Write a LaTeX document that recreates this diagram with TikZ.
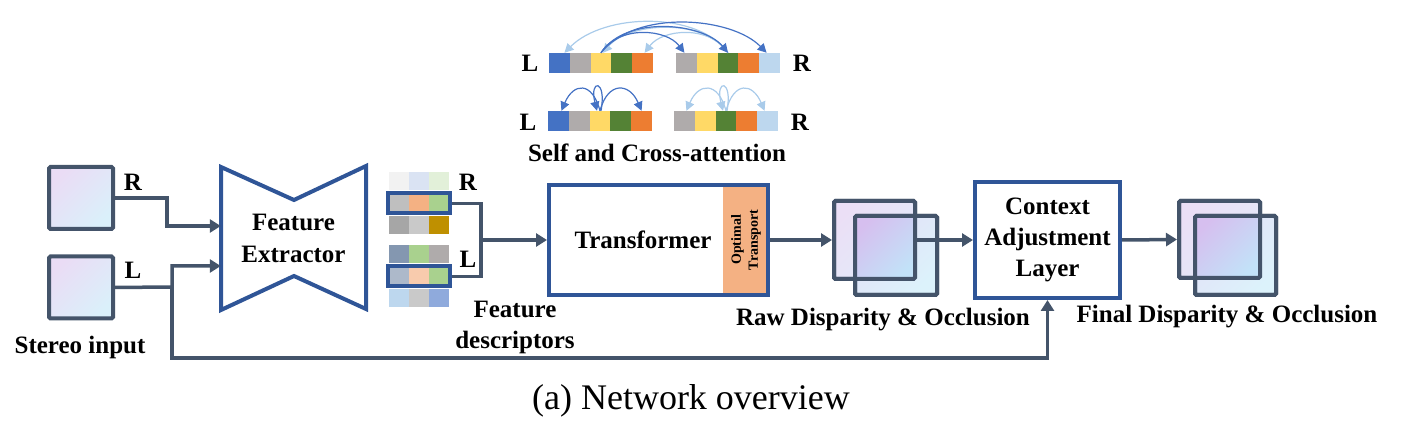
\documentclass[tikz,border=0pt]{standalone}
\usepackage{fontspec}
\setmainfont{Liberation Serif}[BoldFont={Liberation Serif Bold}]
\usetikzlibrary{arrows.meta,shadings,calc}
\definecolor{cgray}{HTML}{44546A}
\definecolor{dblue}{HTML}{2F5597}
\definecolor{aDark}{HTML}{4472C4}
\definecolor{aLight}{HTML}{A9CBEA}
\definecolor{otc}{HTML}{F4B183}
\definecolor{cBlue}{HTML}{4472C4}
\definecolor{cGray}{HTML}{AFABAB}
\definecolor{cYel}{HTML}{FFD966}
\definecolor{cGrn}{HTML}{548235}
\definecolor{cOrg}{HTML}{ED7D31}
\definecolor{cLb}{HTML}{BDD7EE}
\definecolor{fdA}{HTML}{F2F2F2}
\definecolor{fdB}{HTML}{DAE3F3}
\definecolor{fdC}{HTML}{E2F0D9}
\definecolor{fdD}{HTML}{BFBFBF}
\definecolor{fdE}{HTML}{F4B183}
\definecolor{fdF}{HTML}{A9D18E}
\definecolor{fdG}{HTML}{A6A6A6}
\definecolor{fdH}{HTML}{C9C9C9}
\definecolor{fdI}{HTML}{BF9000}
\definecolor{fdJ}{HTML}{8497B0}
\definecolor{fdL}{HTML}{ADB9CA}
\definecolor{fdM}{HTML}{F8CBAD}
\definecolor{fdN}{HTML}{BDD7EE}
\definecolor{fdO}{HTML}{8FAADC}
\definecolor{sqA}{HTML}{EADCF5}
\definecolor{sqB}{HTML}{DAF0FA}
\definecolor{bkA}{HTML}{EBDFF6}
\definecolor{bkB}{HTML}{E2ECF9}
\definecolor{frA}{HTML}{E3E0F7}
\definecolor{frB}{HTML}{DCF2FB}
\definecolor{ovA}{HTML}{D6BFEF}
\definecolor{ovB}{HTML}{C2E2F8}
\begin{document}
\begin{tikzpicture}[x=1pt,y=-1pt,
  conn/.style={draw=cgray, line width=3.5pt, -{Triangle[length=11pt,width=13pt]}},
  plainline/.style={draw=cgray, line width=3.5pt},
  bbox/.style={draw=dblue, line width=4pt, inner sep=0pt},
  lbl/.style={font=\fontsize{25}{31}\selectfont\rmfamily\bfseries, inner sep=0pt, align=center},
  sq/.style={draw=cgray, line width=4pt, inner sep=0pt, outer sep=0pt, rounded corners=1.5pt},
  sqline/.style={draw=cgray, line width=4pt, rounded corners=1.5pt},
  shA/.style={top color=sqA, bottom color=sqB, shading angle=45},
  shBk/.style={top color=bkA, bottom color=bkB, shading angle=45},
  shFr/.style={top color=frA, bottom color=frB, shading angle=45},
  shOv/.style={top color=ovA, bottom color=ovB, shading angle=45},
  cell/.style={minimum width=20.8pt, minimum height=20pt, inner sep=0pt, draw=none},
  fdcell/.style={minimum width=20pt, inner sep=0pt, draw=none},
  darr/.style={draw=aDark, line width=1.2pt, -{Triangle[length=9pt,width=9pt]}},
  larr/.style={draw=aLight, line width=1.2pt, -{Triangle[length=9pt,width=9pt]}}
]
\useasboundingbox (0,0) rectangle (1401,438);

% ---------- attention illustration ----------
\foreach \cl [count=\i] in {cBlue,cGray,cYel,cGrn,cOrg}
  \node[cell, fill=\cl] (tL\i) at ({549+20.8*(\i-0.5)},63) {};
\foreach \cl [count=\i] in {cGray,cYel,cGrn,cOrg,cLb}
  \node[cell, fill=\cl] (tR\i) at ({676+20.8*(\i-0.5)},63) {};
\foreach \cl [count=\i] in {cBlue,cGray,cYel,cGrn,cOrg}
  \node[cell, fill=\cl] (bL\i) at ({548+20.8*(\i-0.5)},121) {};
\foreach \cl [count=\i] in {cGray,cYel,cGrn,cOrg,cLb}
  \node[cell, fill=\cl] (bR\i) at ({674+20.8*(\i-0.5)},121) {};
\node[lbl] (tLl) at (530,63) {L};
\node[lbl] (tRl) at (802,63) {R};
\node[lbl] (bLl) at (528,122) {L};
\node[lbl] (bRl) at (800,122) {R};
\node[lbl] (satt) at (657,153) {Self and Cross-attention};

% cross attention (top)
\draw[larr] (tR3.north) .. controls +(-30,-42) and +(40,-40) .. ([xshift=5pt]tL1.north);
\draw[larr] (tR3.north) .. controls +(-25,-36) and +(25,-30) .. ([xshift=2pt]tL3.north);
\draw[larr] (tR3.north) .. controls +(-18,-28) and +(18,-24) .. ([xshift=2pt]tL5.north);
\draw[darr] (tL3.north) .. controls +(18,-28) and +(-18,-24) .. ([xshift=-2pt]tR1.north);
\draw[darr] (tL3.north) .. controls +(25,-38) and +(-25,-30) .. (tR3.north);
\draw[darr] (tL3.north) .. controls +(35,-44) and +(-35,-36) .. ([xshift=-3pt]tR5.north);

% self attention (bottom)
\draw[darr] (bL3.north) .. controls +(-8,-30) and +(12,-28) .. ([xshift=3pt]bL1.north);
\draw[darr] (bL3.north) .. controls +(8,-30) and +(-12,-28) .. (bL5.north);
\draw[darr] ([xshift=1pt]bL3.north) .. controls +(6,-32) and +(-8,-32) .. ([xshift=-3pt]bL3.north);
\draw[larr] (bR3.north) .. controls +(-8,-30) and +(12,-28) .. ([xshift=2pt]bR1.north);
\draw[larr] (bR3.north) .. controls +(8,-30) and +(-12,-28) .. ([xshift=-3pt]bR5.north);
\draw[larr] ([xshift=1pt]bR3.north) .. controls +(6,-32) and +(-8,-32) .. ([xshift=-3pt]bR3.north);

% ---------- stereo input ----------
\node[sq, shA, minimum width=64pt, minimum height=62pt] (imgR) at (81,198) {};
\node[sq, shA, minimum width=64pt, minimum height=62pt] (imgL) at (81,287.5) {};
\node[lbl] (imgRl) at (133,182) {R};
\node[lbl] (imgLl) at (133,270) {L};
\node[lbl] (stin) at (80,347) {Stereo input};

% ---------- feature extractor ----------
\draw[dblue, line width=4pt, line join=miter] (221,167) -- (294,200) -- (366,166) -- (366,309) -- (294,276) -- (221,310) -- cycle;
\node[lbl, minimum width=145pt, minimum height=143pt, font=\fontsize{25}{32}\selectfont\rmfamily\bfseries] (fe) at (293.5,238.5) {Feature\\Extractor};

\coordinate (split) at (172,287);
\draw[conn] (imgR.east) -- (167,198) |- (fe.west |- 0,226);
\draw[conn] (imgL.east) -- (split) |- (fe.west |- 0,266);

% ---------- feature descriptors ----------
\foreach \cl [count=\i] in {fdA,fdB,fdC}
  \node[fdcell, fill=\cl, minimum height=18pt] (fdRt\i) at ({389+20*(\i-0.5)},181) {};
\foreach \cl [count=\i] in {fdD,fdE,fdF}
  \node[fdcell, fill=\cl, minimum height=19pt] (fdRm\i) at ({389+20*(\i-0.5)},203.5) {};
\foreach \cl [count=\i] in {fdG,fdH,fdI}
  \node[fdcell, fill=\cl, minimum height=18pt] (fdRb\i) at ({389+20*(\i-0.5)},225) {};
\foreach \cl [count=\i] in {fdJ,fdF,cGray}
  \node[fdcell, fill=\cl, minimum height=18pt] (fdLt\i) at ({389+20*(\i-0.5)},254) {};
\foreach \cl [count=\i] in {fdL,fdM,fdF}
  \node[fdcell, fill=\cl, minimum height=19pt] (fdLm\i) at ({389+20*(\i-0.5)},276.5) {};
\foreach \cl [count=\i] in {fdN,fdH,fdO}
  \node[fdcell, fill=\cl, minimum height=18pt] (fdLb\i) at ({389+20*(\i-0.5)},298) {};
\node[bbox, minimum width=62pt, minimum height=20pt] (fdR) at (419,203.5) {};
\node[bbox, minimum width=62pt, minimum height=20pt] (fdL) at (419,276.5) {};
\node[lbl] (fdRl) at (468,182) {R};
\node[lbl] (fdLl) at (468,259) {L};
\node[lbl] (fdtxt) at (515,327) {Feature\\descriptors};

% ---------- transformer ----------
\fill[otc] (723,185) rectangle (768,295);
\node[bbox, minimum width=219pt, minimum height=110pt] (tr) at (658.5,240) {};
\node[lbl] (trtxt) at (643,240) {Transformer};
\node[inner sep=0pt, align=center, rotate=90, font=\fontsize{14}{17}\selectfont\rmfamily\bfseries] (ot) at (746,240) {Optimal\\Transport};

\coordinate (fdJ) at (481,240);
\draw[plainline] (fdR.east) -| (fdJ) |- (fdL.east);
\draw[conn] (fdJ) -- (tr.west);

% ---------- raw disparity ----------
\node[sq, shBk, minimum width=81pt, minimum height=78pt] (rawB) at (874.5,240) {};
\node[sq, shFr, minimum width=82pt, minimum height=79pt] (rawF) at (896,255.5) {};
\shade[shOv] (rawF.north west) rectangle (rawB.south east);
\draw[sqline] (rawB.north west) rectangle (rawB.south east);
\draw[sqline] (rawF.north west) rectangle (rawF.south east);
\node[lbl] (rawtxt) at (883,320) {Raw Disparity \& Occlusion};

\draw[conn] (tr.east) -- ([xshift=-2pt]rawB.west);

% ---------- context adjustment layer ----------
\node[bbox, lbl, minimum width=145pt, minimum height=116pt] (cal) at (1047.5,240) {Context\\Adjustment\\Layer};
\draw[conn] (rawB.east) -- (cal.west);
\draw[conn] (split) |- (cal.south |- 0,358) -- (cal.south);

% ---------- final disparity ----------
\node[sq, shBk, minimum width=81pt, minimum height=77pt] (finB) at (1219.5,239.5) {};
\node[sq, shFr, minimum width=81pt, minimum height=79pt] (finF) at (1235.5,255.5) {};
\shade[shOv] (finF.north west) rectangle (finB.south east);
\draw[sqline] (finB.north west) rectangle (finB.south east);
\draw[sqline] (finF.north west) rectangle (finF.south east);
\node[lbl] (fintxt) at (1227,317) {Final Disparity \& Occlusion};
\draw[conn] (cal.east) -- ([xshift=-2pt]finB.west);

% ---------- caption ----------
\node[inner sep=0pt, font=\fontsize{36}{40}\selectfont\rmfamily] (cap) at (691,401) {(a) Network overview};
\end{tikzpicture}
\end{document}
